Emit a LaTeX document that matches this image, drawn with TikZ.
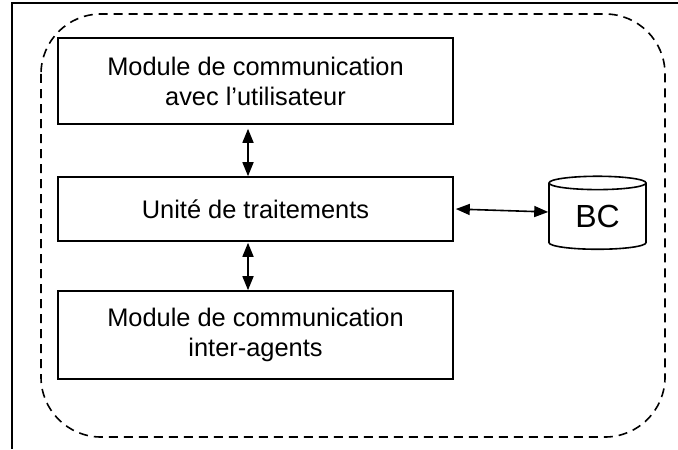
\documentclass[tikz,border=0pt]{standalone}
\usepackage{fontspec}
\setmainfont{Liberation Sans}
\usetikzlibrary{shapes.geometric,arrows.meta}
\begin{document}
\begin{tikzpicture}[x=0.5pt,y=-0.5pt]
  \tikzstyle{module}=[draw,line width=0.8pt,minimum width=197.5pt,align=center,inner sep=0pt,font=\fontsize{12.7}{15}\selectfont]
  \tikzstyle{link}=[line width=0.8pt,{Triangle[width=5.5pt,length=7pt]}-{Triangle[width=5.5pt,length=7pt]}]
  \tikzstyle{base}=[draw,line width=0.8pt,cylinder,shape border rotate=90,aspect=0.3,minimum width=48.5pt,minimum height=36.5pt,inner sep=0pt,font=\fontsize{16}{18}\selectfont]
  \useasboundingbox (0,0) rectangle (678,449);
  % frame
  \draw[line width=0.8pt] (678,3) -- (12,3) -- (12,449);
  % agent
  \draw[dash pattern=on 4.5pt off 3pt,line width=0.8pt,rounded corners=30pt] (41,14) rectangle (665,437);
  % modules
  \node[module,minimum height=43pt] (user) at (255.5,81) {Module de communication\\avec l’utilisateur};
  \node[module,minimum height=32pt] (unit) at (255.5,209) {Unité de traitements};
  \node[module,minimum height=44pt] (inter) at (255.5,335) {Module de communication\\inter-agents};
  \node[base] (bc) at (597.5,216.5) {BC};
  % links
  \draw[link] ([xshift=-3.75pt,yshift=-2pt]user.south) -- ([xshift=-3.75pt]unit.north);
  \draw[link] ([xshift=-3.75pt,yshift=-0.5pt]unit.south) -- ([xshift=-3.75pt]inter.north);
  \draw[link] ([xshift=1pt]unit.east) -- ([yshift=2.25pt]bc.west);
\end{tikzpicture}
\end{document}
